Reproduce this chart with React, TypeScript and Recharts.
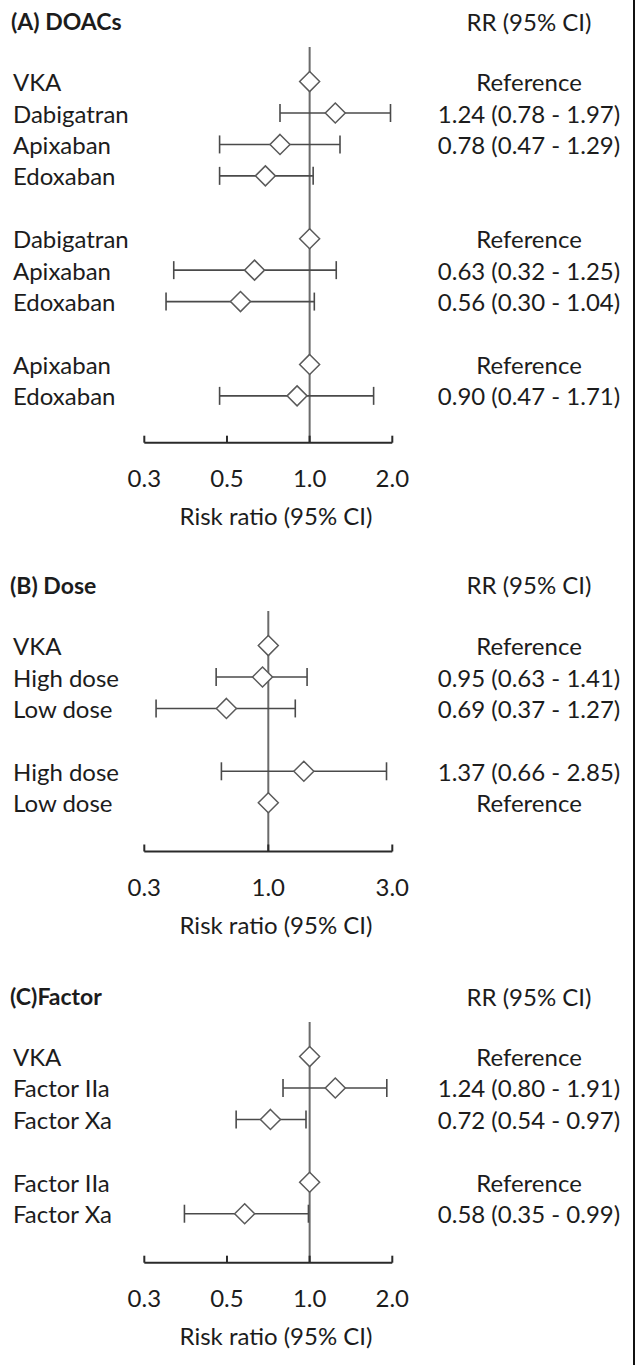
import React from "react";
import { ScatterChart, Scatter, XAxis, YAxis, ReferenceLine, ErrorBar } from "recharts";

// ---------- Panel A: DOACs ----------
const aTitle = "(A) DOACs";
const aGroups = [4, 3, 2];
const aLabels = ["VKA", "Dabigatran", "Apixaban", "Edoxaban", "Dabigatran", "Apixaban", "Edoxaban", "Apixaban", "Edoxaban"];
const aRR = [1, 1.24, 0.78, 0.69, 1, 0.63, 0.56, 1, 0.9];
const aLo: (number | null)[] = [null, 0.78, 0.47, 0.47, null, 0.32, 0.3, null, 0.47];
const aHi: (number | null)[] = [null, 1.97, 1.29, 1.03, null, 1.25, 1.04, null, 1.71];
const aText = ["Reference", "1.24 (0.78 - 1.97)", "0.78 (0.47 - 1.29)", "", "Reference", "0.63 (0.32 - 1.25)", "0.56 (0.30 - 1.04)", "Reference", "0.90 (0.47 - 1.71)"];
const aTicks = [0.25, 0.5, 1, 2];
const aTickLabels = ["0.3", "0.5", "1.0", "2.0"];

// ---------- Panel B: Dose ----------
const bTitle = "(B) Dose";
const bGroups = [3, 2];
const bLabels = ["VKA", "High dose", "Low dose", "High dose", "Low dose"];
const bRR = [1, 0.95, 0.69, 1.37, 1];
const bLo: (number | null)[] = [null, 0.63, 0.37, 0.66, null];
const bHi: (number | null)[] = [null, 1.41, 1.27, 2.85, null];
const bText = ["Reference", "0.95 (0.63 - 1.41)", "0.69 (0.37 - 1.27)", "1.37 (0.66 - 2.85)", "Reference"];
const bTicks = [1 / 3, 1, 3];
const bTickLabels = ["0.3", "1.0", "3.0"];

// ---------- Panel C: Factor ----------
const cTitle = "(C)Factor";
const cGroups = [3, 2];
const cLabels = ["VKA", "Factor IIa", "Factor Xa", "Factor IIa", "Factor Xa"];
const cRR = [1, 1.24, 0.72, 1, 0.58];
const cLo: (number | null)[] = [null, 0.8, 0.54, null, 0.35];
const cHi: (number | null)[] = [null, 1.91, 0.97, null, 0.99];
const cText = ["Reference", "1.24 (0.80 - 1.91)", "0.72 (0.54 - 0.97)", "Reference", "0.58 (0.35 - 0.99)"];
const cTicks = [0.25, 0.5, 1, 2];
const cTickLabels = ["0.3", "0.5", "1.0", "2.0"];

const axisTitle = "Risk ratio (95% CI)";
const colTitle = "RR (95% CI)";

const FONT = "Lato, 'Open Sans', sans-serif";
const TEXT = "#1c1c1c";
const W = 641;
const H = 1365;
const PLOT_LEFT = 144.3;
const PLOT_RIGHT = 392.3;
const ROW_PX = 31.43;

const Diamond = (p: any) => {
  const { cx, cy } = p;
  if (cx == null || cy == null) return null;
  const s = 10;
  return (
    <polygon
      points={`${cx},${cy - s} ${cx + s},${cy} ${cx},${cy + s} ${cx - s},${cy}`}
      fill="#ffffff"
      stroke="#5a5a5a"
      strokeWidth={1.5}
    />
  );
};

type PanelProps = {
  groups: number[];
  labels: string[];
  rr: number[];
  lo: (number | null)[];
  hi: (number | null)[];
  texts: string[];
  ticks: number[];
  tickLabels: string[];
  plotTop: number;
  plotBottom: number;
};

function Panel({ groups, labels, rr, lo, hi, texts, ticks, tickLabels, plotTop, plotBottom }: PanelProps) {
  const rows: number[] = [];
  let r = 0;
  groups.forEach((g) => {
    for (let i = 0; i < g; i++) rows.push(r++);
    r++;
  });
  const data = rr.map((v, i) => ({
    x: v,
    y: rows[i],
    err: lo[i] != null && hi[i] != null ? [v - (lo[i] as number), (hi[i] as number) - v] : undefined,
  }));
  const labelByRow: Record<number, string> = {};
  const textByRow: Record<number, string> = {};
  rows.forEach((row, i) => {
    labelByRow[row] = labels[i];
    textByRow[row] = texts[i];
  });
  const yMin = -1.1;
  const plotH = plotBottom - plotTop;
  const yMax = yMin + plotH / ROW_PX;
  const marginTop = 30;
  const axisH = 100;
  const chartH = marginTop + plotH + axisH;
  const tickLabelMap: Record<string, string> = {};
  ticks.forEach((t, i) => (tickLabelMap[String(t)] = tickLabels[i]));

  const LeftTick = (p: any) => (
    <text x={13} y={p.y} dominantBaseline="central" textAnchor="start" fontFamily={FONT} fontSize={24} fill={TEXT}>
      {labelByRow[p.payload.value] ?? ""}
    </text>
  );
  const RightTick = (p: any) => (
    <text x={529} y={p.y} dominantBaseline="central" textAnchor="middle" fontFamily={FONT} fontSize={24} fill={TEXT}>
      {textByRow[p.payload.value] ?? ""}
    </text>
  );
  const XTick = (p: any) => (
    <text x={p.x} y={p.y} dominantBaseline="central" textAnchor="middle" fontFamily={FONT} fontSize={24} fill={TEXT}>
      {tickLabelMap[String(p.payload.value)] ?? ""}
    </text>
  );
  const XTitle = (p: any) => {
    const vb = p.viewBox || { y: 0 };
    return (
      <text x={276} y={vb.y + 73} dominantBaseline="central" textAnchor="middle" fontFamily={FONT} fontSize={24} fill={TEXT}>
        {axisTitle}
      </text>
    );
  };

  return (
    <div style={{ position: "absolute", left: 0, top: plotTop - marginTop, width: W, height: chartH }}>
      <ScatterChart width={W} height={chartH} margin={{ top: marginTop, right: 0, bottom: 0, left: 0 }}>
        <XAxis
          type="number"
          dataKey="x"
          scale="log"
          domain={[ticks[0], ticks[ticks.length - 1]]}
          allowDataOverflow
          ticks={ticks}
          interval={0}
          height={axisH}
          axisLine={{ stroke: "#2a2a2a", strokeWidth: 2 }}
          tickLine={{ stroke: "#2a2a2a", strokeWidth: 2 }}
          tickSize={-7}
          tickMargin={42}
          tick={<XTick />}
          label={{ content: <XTitle /> } as any}
        />
        <YAxis
          yAxisId="l"
          type="number"
          dataKey="y"
          domain={[yMin, yMax]}
          allowDataOverflow
          reversed
          ticks={rows}
          interval={0}
          width={PLOT_LEFT}
          axisLine={false}
          tickLine={false}
          tick={<LeftTick />}
        />
        <YAxis
          yAxisId="r"
          orientation="right"
          type="number"
          domain={[yMin, yMax]}
          allowDataOverflow
          reversed
          ticks={rows}
          interval={0}
          width={W - PLOT_RIGHT}
          axisLine={false}
          tickLine={false}
          tick={<RightTick />}
        />
        <ReferenceLine yAxisId="l" x={1} stroke="#6b6b6b" strokeWidth={2} />
        <Scatter yAxisId="l" data={data} shape={(p: any) => <Diamond {...p} />} isAnimationActive={false}>
          <ErrorBar dataKey="err" direction="x" width={9} stroke="#4a4a4a" strokeWidth={1.6} isAnimationActive={false} />
        </Scatter>
      </ScatterChart>
    </div>
  );
}

export default function App() {
  const titleStyle = { fontFamily: FONT, fontSize: 23, fontWeight: 700, fill: TEXT } as const;
  const colStyle = { fontFamily: FONT, fontSize: 24, fill: TEXT } as const;
  return (
    <div style={{ position: "absolute", left: 0, top: 0, width: W, height: H, background: "#ffffff", overflow: "hidden" }}>
      <Panel groups={aGroups} labels={aLabels} rr={aRR} lo={aLo} hi={aHi} texts={aText} ticks={aTicks} tickLabels={aTickLabels} plotTop={47.3} plotBottom={443} />
      <Panel groups={bGroups} labels={bLabels} rr={bRR} lo={bLo} hi={bHi} texts={bText} ticks={bTicks} tickLabels={bTickLabels} plotTop={610.5} plotBottom={851} />
      <Panel groups={cGroups} labels={cLabels} rr={cRR} lo={cLo} hi={cHi} texts={cText} ticks={cTicks} tickLabels={cTickLabels} plotTop={1022} plotBottom={1262.7} />
      <svg width={W} height={H} style={{ position: "absolute", left: 0, top: 0, pointerEvents: "none" }}>
        <text x={11} y={21} dominantBaseline="central" {...titleStyle}>{aTitle}</text>
        <text x={529} y={21} dominantBaseline="central" textAnchor="middle" {...colStyle}>{colTitle}</text>
        <text x={10} y={584.5} dominantBaseline="central" {...titleStyle}>{bTitle}</text>
        <text x={529} y={584.5} dominantBaseline="central" textAnchor="middle" {...colStyle}>{colTitle}</text>
        <text x={10} y={996} dominantBaseline="central" {...titleStyle}>{cTitle}</text>
        <text x={529} y={996} dominantBaseline="central" textAnchor="middle" {...colStyle}>{colTitle}</text>
        <line x1={634} y1={0} x2={634} y2={H} stroke="#111111" strokeWidth={2} />
      </svg>
    </div>
  );
}
